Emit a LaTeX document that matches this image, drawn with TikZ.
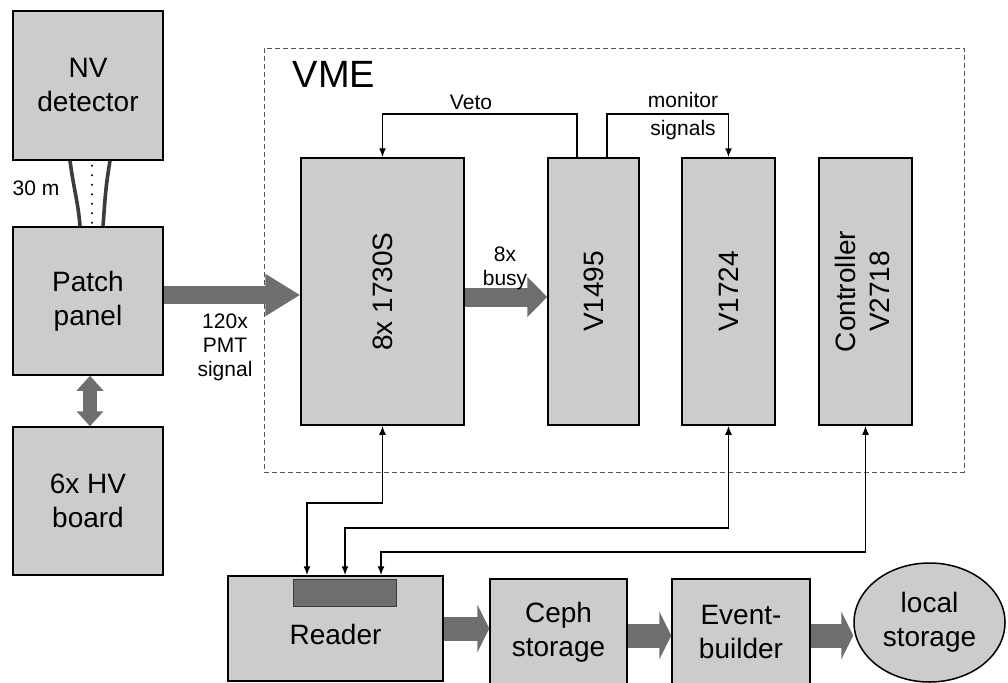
\documentclass[tikz,border=0pt]{standalone}
\usepackage{fontspec}
\setmainfont{Liberation Sans}
\usepackage{xcolor}
\usetikzlibrary{positioning,arrows.meta,shapes.geometric}
\definecolor{BoxGray}{HTML}{CCCCCC}
\definecolor{FatGray}{HTML}{6E6E6E}
\definecolor{EdgeGray}{HTML}{3C3C3C}
\definecolor{DashGray}{HTML}{555555}

\begin{document}
\begin{tikzpicture}[x=1pt, y=-1pt, >={Latex[length=9pt,width=7pt]},
                    box/.style={draw=black, line width=1.5pt, fill=BoxGray, align=center,
                                inner sep=0pt, font=\fontsize{28}{34}\selectfont},
                    lbl/.style={align=center, inner sep=0pt, font=\fontsize{21}{26}\selectfont},
                    sig/.style={draw=black, line width=1.5pt},
                    fat/.style={draw=FatGray, line width=#1}]
\clip (0,0) rectangle (1008,682);
% left column
\node[box, minimum width=150pt, minimum height=149pt] (nv) at (88,85.5) {NV\\detector};
\node[box, minimum width=150pt, minimum height=148pt] (patch) at (88,301) {Patch\\panel};
\node[box, minimum width=150pt, minimum height=148pt] (hv) at (88,501) {6x HV\\board};
\draw[draw=EdgeGray, line width=3.6pt] ([xshift=-18pt]nv.south) .. controls +(4,30) and +(-2,-25) .. ([xshift=-8pt]patch.north);
\draw[draw=EdgeGray, line width=3.6pt] ([xshift=22pt]nv.south) .. controls +(-5,30) and +(2,-25) .. ([xshift=15pt]patch.north);
\draw[line width=2.4pt, line cap=round, dash pattern=on 0pt off 9.5pt] ([xshift=4pt,yshift=-5pt]nv.south) -- ([xshift=4pt]patch.north);
\node[lbl] (cablelen) at (36,188) {30 m};
\draw[fat=14pt, {Triangle[width=26pt,length=15pt]}-{Triangle[width=26pt,length=15pt]}]
  ([xshift=2pt]patch.south) -- ([xshift=2pt]hv.north);

% VME crate
\node[draw=DashGray, line width=0.8pt, dash pattern=on 5pt off 3pt,
      minimum width=700pt, minimum height=424pt, inner sep=0pt] (vme) at (614,260) {};
\node[font=\fontsize{38}{44}\selectfont, inner sep=0pt] (vmetxt) at (334,74) {VME};
\node[box, minimum width=163pt, minimum height=267pt] (dig) at (382.5,291.5) {\rotatebox{90}{8x 1730S}};
\node[box, minimum width=91pt, minimum height=267pt] (v1495) at (593.5,291.5) {\rotatebox{90}{V1495}};
\node[box, minimum width=93pt, minimum height=267pt] (v1724) at (728.5,291.5) {\rotatebox{90}{V1724}};
\node[box, minimum width=93pt, minimum height=267pt] (ctrl) at (865.5,291.5)
  {\rotatebox{90}{\begin{tabular}{@{}c@{}}Controller\\V2718\end{tabular}}};

\draw[fat=18pt, -{Triangle[width=40pt,length=35pt]}] ([yshift=6pt]patch.east) -- ([yshift=6pt]patch.east -| dig.west);
\node[lbl, font=\fontsize{21}{24}\selectfont] (pmt) at (225,347) {120x\\PMT\\signal};
\draw[fat=19pt, -{Triangle[width=39pt,length=20pt]}] ([yshift=-5.5pt]dig.east) -- ([yshift=-5.5pt]dig.east -| v1495.west);
\node[lbl, font=\fontsize{21}{24}\selectfont] (busy) at (505,268) {8x\\busy};

\draw[sig, ->] ([xshift=-16.5pt]v1495.north) -- ++(0,-43) -| (dig.north);
\node[lbl] (veto) at (471,102) {Veto};
\draw[sig, ->] ([xshift=13.5pt]v1495.north) -- ++(0,-43) -| (v1724.north);
\node[lbl, font=\fontsize{21}{28}\selectfont] (mon) at (683,116) {monitor\\signals};

% readout chain
\node[box, minimum width=215pt, minimum height=105pt] (reader) at (335.5,628.5) {};
\node[draw=EdgeGray, line width=1pt, fill=FatGray, minimum width=103pt, minimum height=27pt,
      inner sep=0pt] (buf) at (344.5,592.5) {};
\node[box, draw=none, fill=none] (readertxt) at (335.5,634) {Reader};
\node[box, minimum width=137pt, minimum height=106pt] (ceph) at (558.5,632) {Ceph\\storage};
\node[box, minimum width=138pt, minimum height=106pt] (evb) at (741,632) {Event-\\builder};
\node[box, ellipse, minimum width=151pt, minimum height=119pt] (disk) at (929.5,622.5) {local\\storage};

\draw[sig, <->] (dig.south) -- ++(0,77) -| ([xshift=-28.5pt]reader.north);
\draw[sig, <->] (v1724.south) -- ++(0,102) -| ([xshift=9.5pt]reader.north);
\draw[sig, <->] (ctrl.south) -- ++(0,126) -| ([xshift=45.5pt]reader.north);

\draw[fat=24pt, -{Triangle[width=48pt,length=12pt]}] (reader.east) -- (reader.east -| ceph.west);
\draw[fat=24pt, -{Triangle[width=48pt,length=12pt]}] ([yshift=-3.5pt]ceph.east) -- ([yshift=-3.5pt]ceph.east -| evb.west);
\draw[fat=24pt, -{Triangle[width=48pt,length=12pt]}] ([yshift=-3.5pt]evb.east) -- ([yshift=-3.5pt]evb.east -| disk.west);
\end{tikzpicture}
\end{document}
